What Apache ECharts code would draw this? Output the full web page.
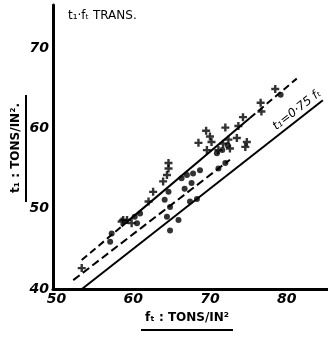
<!DOCTYPE html>
<html>
<head>
<meta charset="utf-8">
<script src="https://cdn.jsdelivr.net/npm/echarts@6.0.0/dist/echarts.min.js"></script>
<style>
  html, body { margin: 0; padding: 0; background: #fff; }
  #chart { width: 328px; height: 338px; }
</style>
</head>
<body>
<div id="chart"></div>
<script>
// axis ranges and tick labels
const ftRange = [49.56, 85.37];
const t1Range = [40, 75.37];
const ftTicks = [50, 60, 70, 80];
const t1Ticks = [40, 50, 60, 70];

// test points, crosses (+)
const crossPts = [
  [53.3, 42.6], [58.5, 48.4], [58.7, 48.6], [59.2, 48.6], [59.8, 48.2],
  [62.0, 50.9], [62.6, 52.1], [63.9, 53.4], [64.4, 54.2], [64.6, 55.0],
  [64.6, 55.7], [68.5, 58.2], [69.5, 59.7], [70.0, 59.0], [70.2, 58.3],
  [69.6, 57.3], [72.0, 60.1], [73.7, 60.3], [74.3, 61.4], [76.6, 63.2],
  [76.7, 62.1], [73.5, 58.8], [74.8, 58.3], [74.6, 57.7], [71.1, 57.3],
  [71.7, 58.1], [72.4, 58.6], [72.6, 57.5], [78.5, 64.9]
];

// test points, dots
const dotPts = [
  [64.8, 47.3], [65.9, 48.6], [64.4, 49.0], [64.8, 50.2], [64.1, 51.1],
  [67.4, 50.9], [68.3, 51.2], [66.7, 52.5], [67.6, 53.2], [66.3, 53.8],
  [67.0, 54.2], [67.8, 54.4], [68.7, 54.8], [71.1, 55.0], [72.0, 55.7],
  [60.9, 49.4], [57.2, 46.9], [57.0, 45.9], [64.6, 52.1], [79.2, 64.2],
  [60.5, 48.2], [60.2, 49.0], [70.9, 56.9], [71.6, 57.3], [72.3, 57.9]
];

// fitted lines
const lowerLine = [[53.33, 40], [84.7, 63.5]];      // t1 = 0.75 ft
const middleLine = [[52.2, 41.1], [72.6, 56.1]];
const upperDashA = [[53.3, 43.6], [58.5, 47.8]];
const upperSolid = [[58.5, 47.8], [75.2, 61.3]];
const upperDashB = [[75.2, 61.3], [81.3, 66.2]];

const plusPath = 'path://M3.5 0H6.5V3.5H10V6.5H6.5V10H3.5V6.5H0V3.5H3.5Z';
const handFont = 'DejaVu Sans';

function lineSeries(data, type, width) {
  return {
    type: 'line',
    data: data,
    symbol: 'none',
    silent: true,
    z: 1,
    lineStyle: { color: '#000', width: width, type: type }
  };
}

const chart = echarts.init(document.getElementById('chart'));

chart.setOption({
  animation: false,
  backgroundColor: '#fff',
  grid: { left: 53, right: 0, top: 5, bottom: 49 },
  xAxis: {
    type: 'value',
    min: ftRange[0],
    max: ftRange[1],
    splitLine: { show: false },
    axisTick: { show: false },
    axisLine: { lineStyle: { color: '#000', width: 3 } },
    axisLabel: {
      customValues: ftTicks,
      margin: 3,
      color: '#000',
      fontFamily: handFont,
      fontSize: 14,
      fontWeight: 'bold',
      fontStyle: 'italic'
    }
  },
  yAxis: {
    type: 'value',
    min: t1Range[0],
    max: t1Range[1],
    splitLine: { show: false },
    axisTick: { show: false },
    axisLine: { show: true, lineStyle: { color: '#000', width: 3 } },
    axisLabel: {
      customValues: t1Ticks,
      margin: 4,
      color: '#000',
      fontFamily: handFont,
      fontSize: 14,
      fontWeight: 'bold',
      fontStyle: 'italic'
    }
  },
  series: [
    lineSeries(lowerLine, 'solid', 2),
    lineSeries(middleLine, [8, 4], 2),
    lineSeries(upperDashA, [7, 4], 2),
    lineSeries(upperSolid, 'solid', 2),
    lineSeries(upperDashB, [7, 4], 2),
    {
      type: 'scatter',
      data: crossPts,
      symbol: plusPath,
      symbolSize: 8,
      z: 3,
      itemStyle: { color: '#000' }
    },
    {
      type: 'scatter',
      data: dotPts,
      symbol: 'circle',
      symbolSize: 6,
      z: 3,
      itemStyle: { color: '#000' }
    }
  ],
  graphic: [
    {
      type: 'text',
      left: 68,
      top: 10,
      style: {
        text: 't₁·fₜ TRANS.',
        fill: '#000',
        font: '12px "DejaVu Sans"'
      }
    },
    {
      // y axis name, rotated
      type: 'text',
      x: 16,
      y: 148,
      rotation: Math.PI / 2,
      style: {
        text: 't₁ : TONS/IN².',
        fill: '#000',
        font: 'bold 12px "DejaVu Sans"',
        align: 'center',
        verticalAlign: 'middle'
      }
    },
    {
      type: 'line',
      shape: { x1: 26, y1: 95, x2: 26, y2: 202 },
      style: { stroke: '#000', lineWidth: 2 }
    },
    {
      type: 'text',
      x: 187,
      y: 318,
      style: {
        text: 'fₜ : TONS/IN²',
        fill: '#000',
        font: 'bold 12px "DejaVu Sans"',
        align: 'center',
        verticalAlign: 'middle'
      }
    },
    {
      type: 'line',
      shape: { x1: 141, y1: 330, x2: 233, y2: 330 },
      style: { stroke: '#000', lineWidth: 2 }
    },
    {
      // label along the 0.75 line
      type: 'text',
      x: 297,
      y: 110,
      rotation: 0.665,
      style: {
        text: 't₁=0·75 fₜ',
        fill: '#000',
        font: 'italic 12px "DejaVu Sans"',
        align: 'center',
        verticalAlign: 'middle'
      }
    }
  ]
});
</script>
</body>
</html>
